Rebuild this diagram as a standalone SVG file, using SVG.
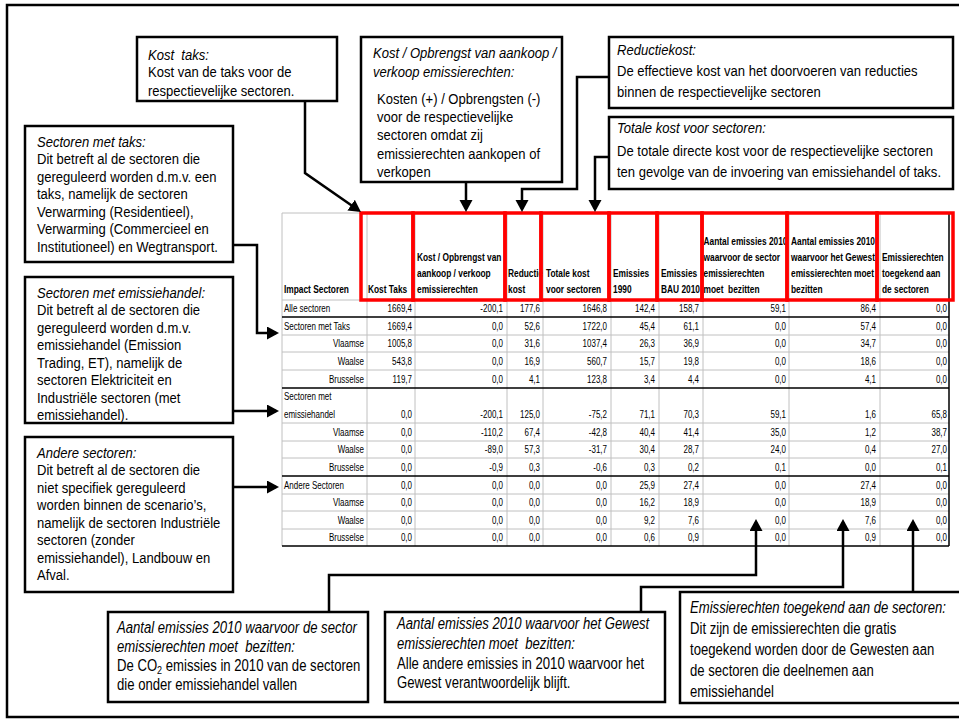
<svg xmlns="http://www.w3.org/2000/svg" width="959" height="725" viewBox="0 0 959 725">
<style>
.box{fill:#fff;stroke:#000;stroke-width:2.5}
.co{font-family:"Liberation Sans",Arial,sans-serif;font-size:15px;fill:#000}
.bt{font-family:"Liberation Sans",Arial,sans-serif;font-size:16px;fill:#000}
.it{font-style:italic}
.conn{fill:none;stroke:#000;stroke-width:2.5;marker-end:url(#ah)}
.g{fill:none;stroke:#c0c0c0;stroke-width:1}
.k{fill:none;stroke:#000;stroke-width:1.5}
.red{fill:none;stroke:#f00;stroke-width:3.5}
.hd{font-family:"Liberation Sans",Arial,sans-serif;font-size:11px;font-weight:bold;fill:#000}
.td{font-family:"Liberation Sans",Arial,sans-serif;font-size:10px;fill:#000}
</style>
<defs>
<marker id="ah" markerUnits="userSpaceOnUse" markerWidth="14" markerHeight="14" refX="9" refY="6.5" orient="auto">
<path d="M0,0 L12,6.5 L0,13 z" fill="#000"/>
</marker>
<clipPath id="c3"><rect x="507" y="213" width="36" height="87"/></clipPath>
</defs>
<rect x="0" y="0" width="959" height="725" fill="#fff"/>
<rect x="7" y="5" width="962" height="712" fill="none" stroke="#000" stroke-width="2.5"/>

<g id="table">
<path class="g" d="M282,213V546M367,213V546M415,213V546M507,213V546M543,213V546M611,213V546M659,213V546M703,213V546M789,213V546M880,213V546M282,213H949M282,300H949M282,335H949M282,352H949M282,370H949M282,423H949M282,441H949M282,458H949M282,494H949M282,511H949M282,529H949"/>
<path class="k" d="M282,317H949M282,388H949M282,476H949M282,546H949M949,213V546"/>
<g class="hd">
<g transform="translate(284,0) scale(0.76,1)"><text y="293">Impact Sectoren</text></g>
<g transform="translate(368,0) scale(0.76,1)"><text y="293">Kost Taks</text></g>
<g transform="translate(417,0) scale(0.76,1)"><text y="261">Kost / Opbrengst van</text><text y="277">aankoop / verkoop</text><text y="293">emissierechten</text></g>
<g clip-path="url(#c3)"><g transform="translate(508,0) scale(0.76,1)"><text y="277">Reductie</text><text y="293">kost</text></g></g>
<g transform="translate(546,0) scale(0.76,1)"><text y="277">Totale kost</text><text y="293">voor sectoren</text></g>
<g transform="translate(613,0) scale(0.76,1)"><text y="277">Emissies</text><text y="293">1990</text></g>
<g transform="translate(661,0) scale(0.76,1)"><text y="277">Emissies</text><text y="293">BAU 2010</text></g>
<g transform="translate(703.5,0) scale(0.76,1)"><text y="245.5">Aantal emissies 2010</text><text y="261">waarvoor de sector</text><text y="277">emissierechten</text><text y="293">moet&#160; bezitten</text></g>
<g transform="translate(791,0) scale(0.76,1)"><text y="245.5">Aantal emissies 2010</text><text y="261">waarvoor het Gewest</text><text y="277">emissierechten moet</text><text y="293">bezitten</text></g>
<g transform="translate(882,0) scale(0.76,1)"><text y="261">Emissierechten</text><text y="277">toegekend aan</text><text y="293">de sectoren</text></g>
</g>
<g class="td">
<g transform="translate(284,0) scale(0.8,1)"><text y="312.5">Alle sectoren</text><text y="330">Sectoren met Taks</text><text y="400.5">Sectoren met</text><text y="418">emissiehandel</text><text y="489.5">Andere Sectoren</text></g>
<g transform="translate(364,0) scale(0.8,1)" text-anchor="end"><text y="347.5">Vlaamse</text><text y="365">Waalse</text><text y="383">Brusselse</text><text y="436">Vlaamse</text><text y="453.5">Waalse</text><text y="471.5">Brusselse</text><text y="506.5">Vlaamse</text><text y="524">Waalse</text><text y="541.5">Brusselse</text></g>
<g transform="translate(412,0) scale(0.8,1)" text-anchor="end"><text y="312.5">1669,4</text><text y="330">1669,4</text><text y="347.5">1005,8</text><text y="365">543,8</text><text y="383">119,7</text><text y="418">0,0</text><text y="436">0,0</text><text y="453.5">0,0</text><text y="471.5">0,0</text><text y="489.5">0,0</text><text y="506.5">0,0</text><text y="524">0,0</text><text y="541.5">0,0</text></g>
<g transform="translate(503,0) scale(0.8,1)" text-anchor="end"><text y="312.5">-200,1</text><text y="330">0,0</text><text y="347.5">0,0</text><text y="365">0,0</text><text y="383">0,0</text><text y="418">-200,1</text><text y="436">-110,2</text><text y="453.5">-89,0</text><text y="471.5">-0,9</text><text y="489.5">0,0</text><text y="506.5">0,0</text><text y="524">0,0</text><text y="541.5">0,0</text></g>
<g transform="translate(540,0) scale(0.8,1)" text-anchor="end"><text y="312.5">177,6</text><text y="330">52,6</text><text y="347.5">31,6</text><text y="365">16,9</text><text y="383">4,1</text><text y="418">125,0</text><text y="436">67,4</text><text y="453.5">57,3</text><text y="471.5">0,3</text><text y="489.5">0,0</text><text y="506.5">0,0</text><text y="524">0,0</text><text y="541.5">0,0</text></g>
<g transform="translate(607,0) scale(0.8,1)" text-anchor="end"><text y="312.5">1646,8</text><text y="330">1722,0</text><text y="347.5">1037,4</text><text y="365">560,7</text><text y="383">123,8</text><text y="418">-75,2</text><text y="436">-42,8</text><text y="453.5">-31,7</text><text y="471.5">-0,6</text><text y="489.5">0,0</text><text y="506.5">0,0</text><text y="524">0,0</text><text y="541.5">0,0</text></g>
<g transform="translate(655,0) scale(0.8,1)" text-anchor="end"><text y="312.5">142,4</text><text y="330">45,4</text><text y="347.5">26,3</text><text y="365">15,7</text><text y="383">3,4</text><text y="418">71,1</text><text y="436">40,4</text><text y="453.5">30,4</text><text y="471.5">0,3</text><text y="489.5">25,9</text><text y="506.5">16,2</text><text y="524">9,2</text><text y="541.5">0,6</text></g>
<g transform="translate(699,0) scale(0.8,1)" text-anchor="end"><text y="312.5">158,7</text><text y="330">61,1</text><text y="347.5">36,9</text><text y="365">19,8</text><text y="383">4,4</text><text y="418">70,3</text><text y="436">41,4</text><text y="453.5">28,7</text><text y="471.5">0,2</text><text y="489.5">27,4</text><text y="506.5">18,9</text><text y="524">7,6</text><text y="541.5">0,9</text></g>
<g transform="translate(786,0) scale(0.8,1)" text-anchor="end"><text y="312.5">59,1</text><text y="330">0,0</text><text y="347.5">0,0</text><text y="365">0,0</text><text y="383">0,0</text><text y="418">59,1</text><text y="436">35,0</text><text y="453.5">24,0</text><text y="471.5">0,1</text><text y="489.5">0,0</text><text y="506.5">0,0</text><text y="524">0,0</text><text y="541.5">0,0</text></g>
<g transform="translate(876,0) scale(0.8,1)" text-anchor="end"><text y="312.5">86,4</text><text y="330">57,4</text><text y="347.5">34,7</text><text y="365">18,6</text><text y="383">4,1</text><text y="418">1,6</text><text y="436">1,2</text><text y="453.5">0,4</text><text y="471.5">0,0</text><text y="489.5">27,4</text><text y="506.5">18,9</text><text y="524">7,6</text><text y="541.5">0,9</text></g>
<g transform="translate(947,0) scale(0.8,1)" text-anchor="end"><text y="312.5">0,0</text><text y="330">0,0</text><text y="347.5">0,0</text><text y="365">0,0</text><text y="383">0,0</text><text y="418">65,8</text><text y="436">38,7</text><text y="453.5">27,0</text><text y="471.5">0,1</text><text y="489.5">0,0</text><text y="506.5">0,0</text><text y="524">0,0</text><text y="541.5">0,0</text></g>
</g>
<g id="highlight">
<rect class="red" x="361" y="213" width="52" height="87"/>
<rect class="red" x="413" y="213" width="92" height="87"/>
<rect class="red" x="505" y="213" width="36" height="87"/>
<rect class="red" x="541" y="213" width="68" height="87"/>
<rect class="red" x="609" y="213" width="48" height="87"/>
<rect class="red" x="657" y="213" width="45" height="87"/>
<rect class="red" x="702" y="213" width="85" height="87"/>
<rect class="red" x="787" y="213" width="90" height="87"/>
<rect class="red" x="877" y="213" width="76" height="87"/>
</g>
</g>

<g id="connectors">
<path class="conn" d="M305,101V173L358.5,210.3"/>
<path class="conn" d="M466,182V209"/>
<path class="conn" d="M609,77H577V189H522V209"/>
<path class="conn" d="M609,157H595V209"/>
<path class="conn" d="M233,245H257V333H276"/>
<path class="conn" d="M233,411H276"/>
<path class="conn" d="M233,487H276"/>
<path class="conn" d="M329,612V575H756V522"/>
<path class="conn" d="M641,612V587H843V522"/>
<path class="conn" d="M913,592V522"/>
</g>

<g id="kost-taks">
<rect class="box" x="137" y="37" width="200" height="64"/>
<text class="co" transform="translate(148,59.5) scale(0.87,1)"><tspan class="it" x="0" y="0">Kost&#160; taks:</tspan><tspan x="0" y="18">Kost van de taks voor de</tspan><tspan x="0" y="36.5">respectievelijke sectoren.</tspan></text>
</g>
<g id="kost-opbrengst">
<rect class="box" x="361" y="37" width="201" height="145"/>
<text class="co" transform="translate(373,58) scale(0.87,1)"><tspan class="it" x="0" y="0">Kost / Opbrengst van aankoop /</tspan><tspan class="it" x="0" y="19">verkoop emissierechten:</tspan><tspan x="4.6" y="46">Kosten (+) / Opbrengsten (-)</tspan><tspan x="4.6" y="64.2">voor de respectievelijke</tspan><tspan x="4.6" y="82.4">sectoren omdat zij</tspan><tspan x="4.6" y="100.6">emissierechten aankopen of</tspan><tspan x="4.6" y="119">verkopen</tspan></text>
</g>
<g id="reductiekost">
<rect class="box" x="609" y="37" width="344" height="71"/>
<text class="co" transform="translate(617,55) scale(0.87,1)"><tspan class="it" x="0" y="0">Reductiekost:</tspan><tspan x="0" y="21">De effectieve kost van het doorvoeren van reducties</tspan><tspan x="0" y="42">binnen de respectievelijke sectoren</tspan></text>
</g>
<g id="totale-kost">
<rect class="box" x="609" y="117" width="344" height="72"/>
<text class="co" transform="translate(617,133) scale(0.87,1)"><tspan class="it" x="0" y="0">Totale kost voor sectoren:</tspan><tspan x="0" y="23">De totale directe kost voor de respectievelijke sectoren</tspan><tspan x="0" y="44">ten gevolge van de invoering van emissiehandel of taks.</tspan></text>
</g>
<g id="sectoren-taks">
<rect class="box" x="25" y="126" width="208" height="136"/>
<text class="co" transform="translate(37,147) scale(0.87,1)"><tspan class="it" x="0" y="0">Sectoren met taks:</tspan><tspan x="0" y="17.5">Dit betreft al de sectoren die</tspan><tspan x="0" y="35">gereguleerd worden d.m.v. een</tspan><tspan x="0" y="52.5">taks, namelijk de sectoren</tspan><tspan x="0" y="70">Verwarming (Residentieel),</tspan><tspan x="0" y="87.5">Verwarming (Commercieel en</tspan><tspan x="0" y="105">Institutioneel) en Wegtransport.</tspan></text>
</g>
<g id="sectoren-emissiehandel">
<rect class="box" x="25" y="277" width="208" height="146"/>
<text class="co" transform="translate(37,298) scale(0.87,1)"><tspan class="it" x="0" y="0">Sectoren met emissiehandel:</tspan><tspan x="0" y="17.5">Dit betreft al de sectoren die</tspan><tspan x="0" y="35">gereguleerd worden d.m.v.</tspan><tspan x="0" y="52.5">emissiehandel (Emission</tspan><tspan x="0" y="70">Trading, ET), namelijk de</tspan><tspan x="0" y="87.5">sectoren Elektriciteit en</tspan><tspan x="0" y="105">Industriële sectoren (met</tspan><tspan x="0" y="122.5">emissiehandel).</tspan></text>
</g>
<g id="andere-sectoren">
<rect class="box" x="25" y="437" width="208" height="155"/>
<text class="co" transform="translate(37,458) scale(0.87,1)"><tspan class="it" x="0" y="0">Andere sectoren:</tspan><tspan x="0" y="17.5">Dit betreft al de sectoren die</tspan><tspan x="0" y="35">niet specifiek gereguleerd</tspan><tspan x="0" y="52.5">worden binnen de scenario’s,</tspan><tspan x="0" y="70">namelijk de sectoren Industriële</tspan><tspan x="0" y="87.5">sectoren (zonder</tspan><tspan x="0" y="105">emissiehandel), Landbouw en</tspan><tspan x="0" y="122.5">Afval.</tspan></text>
</g>
<g id="aantal-sector">
<rect class="box" x="108" y="612" width="260" height="90"/>
<text class="bt" transform="translate(117,633) scale(0.82,1)"><tspan class="it" x="0" y="0">Aantal emissies 2010 waarvoor de sector</tspan><tspan class="it" x="0" y="19">emissierechten moet&#160; bezitten:</tspan><tspan x="0" y="38">De CO</tspan><tspan font-size="11" dy="3">2</tspan><tspan dy="-3"> emissies in 2010 van de sectoren</tspan><tspan x="0" y="57">die onder emissiehandel vallen</tspan></text>
</g>
<g id="aantal-gewest">
<rect class="box" x="385" y="612" width="280" height="90"/>
<text class="bt" transform="translate(397,629) scale(0.82,1)"><tspan class="it" x="0" y="0">Aantal emissies 2010 waarvoor het Gewest</tspan><tspan class="it" x="0" y="20">emissierechten moet&#160; bezitten:</tspan><tspan x="0" y="40">Alle andere emissies in 2010 waarvoor het</tspan><tspan x="0" y="59">Gewest verantwoordelijk blijft.</tspan></text>
</g>
<g id="emissierechten-toegekend">
<rect class="box" x="680" y="592" width="290" height="111"/>
<text class="bt" transform="translate(690,613) scale(0.82,1)"><tspan class="it" x="0" y="0">Emissierechten toegekend aan de sectoren:</tspan><tspan x="0" y="21.5">Dit zijn de emissierechten die gratis</tspan><tspan x="0" y="42.5">toegekend worden door de Gewesten aan</tspan><tspan x="0" y="63.5">de sectoren die deelnemen aan</tspan><tspan x="0" y="84.5">emissiehandel</tspan></text>
</g>
</svg>
